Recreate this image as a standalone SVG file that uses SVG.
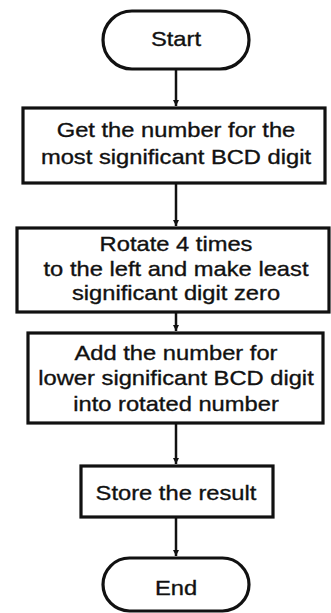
<svg xmlns="http://www.w3.org/2000/svg" width="331" height="613" viewBox="0 0 331 613">
<style>
.box{fill:#fff;stroke:#111;stroke-width:3.2}
.term{fill:#fff;stroke:#111;stroke-width:3.2}
.t{font-family:"Liberation Sans",Arial,sans-serif;font-size:21px;fill:#111;stroke:#111;stroke-width:0.35;text-anchor:middle}
.c{stroke:#111;stroke-width:2.5;fill:none;marker-end:url(#ah)}
</style>
<defs>
<marker id="ah" markerWidth="8" markerHeight="8" refX="6" refY="4" orient="auto" markerUnits="userSpaceOnUse">
<path d="M0,1 L6,4 L0,7 Z" fill="#111"/>
</marker>
</defs>
<rect width="331" height="613" fill="#fff"/>
<g id="connectors">
<line class="c" x1="176" y1="70" x2="176" y2="106"/>
<line class="c" x1="176" y1="184" x2="176" y2="226"/>
<line class="c" x1="176" y1="313" x2="176" y2="331"/>
<line class="c" x1="176" y1="424" x2="176" y2="464"/>
<line class="c" x1="176" y1="518" x2="176" y2="556"/>
</g>
<g id="start">
<rect class="term" x="103" y="11" width="146" height="58" rx="29"/>
<text class="t" transform="translate(176 0) scale(1.13 1)" x="0" y="46">Start</text>
</g>
<g id="get">
<rect class="box" x="23" y="108" width="302" height="75"/>
<g transform="translate(176 0) scale(1.13 1)">
<text class="t" x="0" y="137">Get the number for the</text>
<text class="t" x="0" y="164">most significant BCD digit</text>
</g>
</g>
<g id="rotate">
<rect class="box" x="17" y="228" width="312" height="84"/>
<g transform="translate(176 0) scale(1.13 1)">
<text class="t" x="0" y="251">Rotate 4 times</text>
<text class="t" x="0" y="276">to the left and make least</text>
<text class="t" x="0" y="300">significant digit zero</text>
</g>
</g>
<g id="add">
<rect class="box" x="28" y="333" width="295" height="90"/>
<g transform="translate(176 0) scale(1.13 1)">
<text class="t" x="0" y="360">Add the number for</text>
<text class="t" x="0" y="385">lower significant BCD digit</text>
<text class="t" x="0" y="411">into rotated number</text>
</g>
</g>
<g id="store">
<rect class="box" x="81" y="466" width="192" height="51"/>
<text class="t" transform="translate(176 0) scale(1.13 1)" x="0" y="500">Store the result</text>
</g>
<g id="end">
<rect class="term" x="103" y="558" width="146" height="53" rx="26.5"/>
<text class="t" transform="translate(176 0) scale(1.13 1)" x="0" y="595">End</text>
</g>
</svg>
